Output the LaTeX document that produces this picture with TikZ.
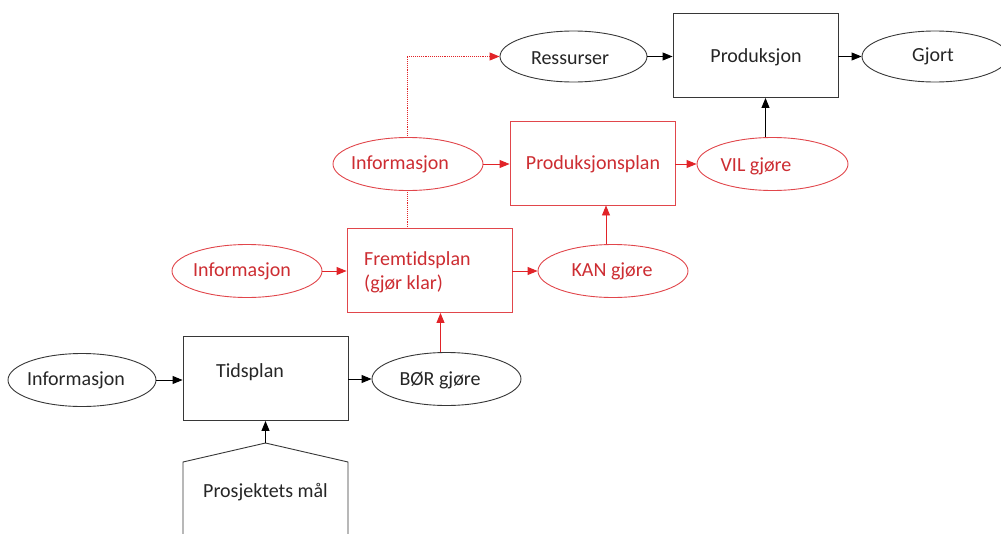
\documentclass[tikz,border=0pt]{standalone}
\usepackage{fontspec}
\setmainfont{Carlito}[Ligatures=NoCommon]
\usetikzlibrary{arrows.meta,shapes.geometric}
\definecolor{rd}{RGB}{225,35,40}
\definecolor{rdl}{RGB}{225,70,75}
\definecolor{rdt}{RGB}{205,45,50}
\definecolor{ln}{RGB}{55,55,55}
\begin{document}
\begin{tikzpicture}[x=1pt,y=-1pt,
  font=\fontsize{20}{24}\selectfont,
  ell/.style={ellipse,draw=ln,line width=0.9pt,fill=white,minimum width=148pt,minimum height=53pt,inner sep=0pt},
  box/.style={rectangle,draw=ln,line width=0.9pt,fill=white,minimum width=165pt,minimum height=84pt,inner sep=0pt},
  red/.style={draw=rdl},
  tip/.style={-{Triangle[length=10pt,width=8pt]}},
  arr/.style={tip,line width=0.9pt,draw=black},
  rarr/.style={tip,line width=0.9pt,draw=rd},
  txt/.style={inner sep=0pt,text=black!85},
  rtxt/.style={inner sep=0pt,text=rdt}]
\useasboundingbox (0,0) rectangle (1001,533);

% dotted line start
\coordinate (d0) at (407,229);

% bottom row
\node[ell] (info1) at (82,380) {};
\node[box] (tids) at (265.5,378.5) {};
\node[ell,minimum width=149pt] (bor) at (446.5,379) {};
\draw[ln,line width=0.9pt,fill=white] (183,540) -- (183,462) -- (265.5,443) -- (348,462) -- (348,540);
\coordinate (apex) at (265.5,443);

% top row
\node[ell,minimum width=147pt,minimum height=51pt] (ress) at (573.5,56.5) {};
\node[box] (prod) at (755.5,55.5) {};
\node[ell,minimum width=146pt,minimum height=51pt] (gjort) at (935,56.5) {};

% dotted connector (behind the middle nodes), solid tip
\draw[rd,densely dotted,line width=0.9pt] (d0) |- ([xshift=-9pt]ress.west);
\draw[rarr] ([xshift=-10.5pt]ress.west) -- (ress.west);

% middle row
\node[ell,red,minimum width=150pt] (info2) at (247,271) {};
\node[box,red] (frem) at (429.5,270.5) {};
\node[ell,red,minimum width=150pt] (kan) at (613,271) {};

% upper-middle row
\node[ell,red,minimum width=150pt] (info3) at (408,164) {};
\node[box,red] (pplan) at (592.5,163) {};
\node[ell,red,minimum width=151pt] (vil) at (772.5,164) {};

% texts
\node[txt] (t1) at (76,380) {Informasjon};
\node[txt] (t2) at (250,372) {Tidsplan};
\node[txt] (t3) at (440,380) {BØR gjøre};
\node[txt] (t4) at (265.5,492) {Prosjektets mål};
\node[rtxt] (t5) at (242,271) {Informasjon};
\node[rtxt,anchor=west,align=left] (t6) at (364,272) {Fremtidsplan\\(gjør klar)};
\node[rtxt] (t7) at (612,271) {KAN gjøre};
\node[rtxt] (t8) at (400,164) {Informasjon};
\node[rtxt] (t9) at (593,164) {Produksjonsplan};
\node[rtxt] (t10) at (756,166) {VIL gjøre};
\node[txt] (t11) at (570,58) {Ressurser};
\node[txt] (t12) at (756,57) {Produksjon};
\node[txt] (t13) at (933,56) {Gjort};

% connectors
\draw[arr] (info1.east) -- (info1.east -| tids.west);
\draw[arr] (tids.east |- bor.west) -- (bor.west);
\draw[arr] (apex) -- (tids.south);
\draw[rarr] ([xshift=-6pt]bor.north) -- ([xshift=-6pt]bor.north |- frem.south);
\draw[rarr] (info2.east) -- (info2.east -| frem.west);
\draw[rarr] (frem.east |- kan.west) -- (kan.west);
\draw[rarr] ([xshift=-7pt]kan.north) -- ([xshift=-7pt]kan.north |- pplan.south);
\draw[rarr] (info3.east) -- (info3.east -| pplan.west);
\draw[rarr] (pplan.east |- vil.west) -- (vil.west);
\draw[arr] ([xshift=-7pt]vil.north) -- ([xshift=-7pt]vil.north |- prod.south);
\draw[arr] (ress.east) -- (ress.east -| prod.west);
\draw[arr] (prod.east |- gjort.west) -- (gjort.west);
\end{tikzpicture}
\end{document}
